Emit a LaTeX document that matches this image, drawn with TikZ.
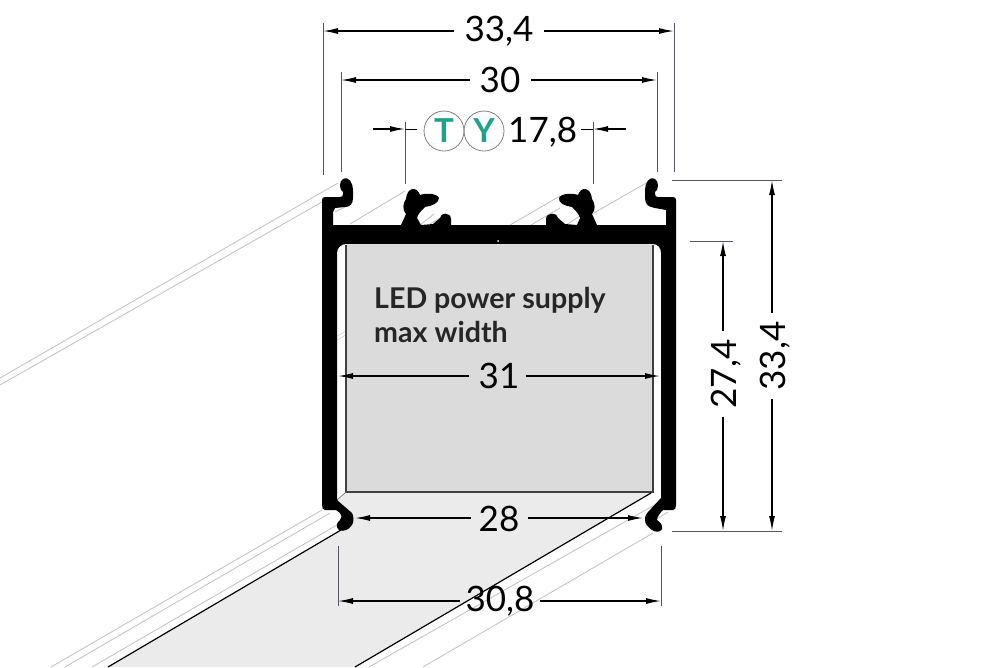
\documentclass[tikz,border=0pt]{standalone}
\usepackage{fontspec}
\setmainfont{Lato}
\definecolor{flr}{HTML}{EBEBEB}
\definecolor{boxg}{HTML}{DBDBDB}
\definecolor{ext}{HTML}{C4C4C4}
\definecolor{dimc}{HTML}{55555F}
\definecolor{tkc}{HTML}{1FA384}
\usetikzlibrary{arrows.meta}
\tikzset{
  extline/.style={draw=ext,line width=0.9pt},
  witness/.style={draw=dimc,line width=1pt},
  dimline/.style={draw=black,line width=1.3pt,-{Latex[length=15pt,width=6pt]}},
  diml/.style={font=\fontsize{35}{35}\selectfont,inner sep=0pt,text=black},
  badge/.style={circle,draw=gray,line width=0.8pt,minimum size=40pt,inner sep=0pt,font=\fontsize{33}{33}\selectfont\bfseries,text=tkc}
}
\begin{document}
\begin{tikzpicture}[x=1pt,y=-1pt]
\useasboundingbox (0,0) rectangle (1000,667);
% floor
\fill[flr] (337,500) -- (346,492) -- (651,493) -- (355,667) -- (108,667) -- (341,530) -- (352,515) -- cycle;
% perspective lines
\draw[extline] (0,378) -- (338,183);
\draw[extline] (0,385) -- (322,202);
\draw[extline] (335,212) -- (345,207);
\draw[extline] (350,224) -- (405,191);
\draw[extline] (420,225) -- (434,214);
\draw[extline] (430,224) -- (440,218);
\draw[extline] (510,225) -- (560,196);
\draw[extline] (531,225) -- (560,208);
\draw[extline] (566,225) -- (580,216);
\draw[extline] (592,214) -- (648,182);
\draw[extline] (51,667) -- (322,510);
\draw[extline] (65,667) -- (330,513);
\draw[extline] (92,667) -- (337,525);
\draw[extline] (369,667) -- (658,503);
\draw[extline] (423,667) -- (653,533);
\draw[extline] (647,525) -- (668,512);
\draw[extline,line width=0.5pt] (337,336) -- (346,331) (337,340) -- (346,335);
% grey box
\fill[boxg] (346,245) rectangle (653,492);
\draw[black!75,line width=1.1pt] (346,245) -- (346,492) -- (653,492) -- (653,245);
\draw[black!60,line width=0.6pt] (337,500) -- (346,492);
% floor edges
\draw[black,line width=1.2pt] (341,530) -- (108,667);
\draw[black,line width=1.2pt] (651,493) -- (355,667);
% profile
\fill[black] (322,200) .. controls (322,198) and (323,197) .. (325,197)
 -- (340,197) .. controls (342,197) and (343,196) .. (343,194)
 -- (343,192) .. controls (339,190) and (339,181) .. (343,179)
 .. controls (349,176) and (353,183) .. (353,190)
 -- (353,198) .. controls (353,204) and (350,207) .. (345,207)
 -- (335,208) -- (333,212) -- (333,225)
 -- (401,225) -- (406,214) .. controls (402,210) and (403,203) .. (406,199)
 .. controls (407,187) and (417,186) .. (420,195)
 .. controls (425,193) and (437,193) .. (439,198)
 .. controls (439,203) and (432,206) .. (425,207)
 .. controls (421,211) and (418,214) .. (417,218)
 -- (421,225) -- (433,224) -- (440,218) .. controls (440,212) and (451,212) .. (451,219)
 -- (451,225) -- (546,225) -- (546,219) .. controls (546,212) and (558,212) .. (558,218)
 -- (565,224) -- (577,225) -- (580,218) .. controls (579,214) and (576,211) .. (572,207)
 .. controls (565,206) and (558,203) .. (559,198)
 .. controls (561,193) and (573,193) .. (578,195)
 .. controls (581,186) and (591,187) .. (592,199)
 .. controls (595,203) and (596,210) .. (592,214)
 -- (597,225) -- (666,225) -- (666,210) -- (655,208)
 .. controls (648,207) and (645,204) .. (645,198)
 -- (645,190) .. controls (645,183) and (649,176) .. (655,179)
 .. controls (659,181) and (659,190) .. (655,192)
 -- (655,194) .. controls (655,196) and (656,197) .. (658,197)
 -- (673,197) .. controls (675,197) and (676,198) .. (676,200)
 -- (676,505) .. controls (676,508) and (675,510) .. (673,510)
 -- (663,510) .. controls (660,513) and (657,517) .. (657,520)
 .. controls (660,522) and (663,525) .. (662,529)
 .. controls (660,533) and (655,532) .. (652,530)
 .. controls (648,527) and (645,524) .. (645,520)
 .. controls (645,516) and (646,514) .. (648,512)
 -- (661,498) -- (661,253) .. controls (661,248) and (658,244) .. (653,244)
 -- (346,244) .. controls (341,244) and (337,248) .. (337,253)
 -- (337,500) -- (352,513) .. controls (354,516) and (354,522) .. (352,525)
 .. controls (349,530) and (343,532) .. (339,530)
 .. controls (335,527) and (337,522) .. (340,520)
 .. controls (342,518) and (342,515) .. (340,513)
 -- (336,510) -- (325,510) .. controls (323,510) and (322,508) .. (322,505) -- cycle;
\fill[white] (498,241) circle (1pt);
% witness lines
\draw[witness] (323,23) -- (323,175);
\draw[witness] (674,23) -- (674,172);
\draw[witness] (341,72) -- (341,172);
\draw[witness] (657,72) -- (657,172);
\draw[witness] (405,122) -- (405,184);
\draw[witness] (593,122) -- (593,184);
\draw[witness] (672,180) -- (782,180);
\draw[witness] (672,531) -- (782,531);
\draw[witness] (690,241) -- (733,241);
\draw[witness] (338,546) -- (338,606);
\draw[witness] (661,546) -- (661,606);
% dim labels
\node[diml] (a) at (499,31) {33,4};
\node[diml] (b) at (500,80) {30};
\node[badge] (t) at (444,131) {T};
\node[badge] (y) at (484,131) {Y};
\node[diml,anchor=west] (c) at (508,132) {17,8};
\node[diml] (d) at (499,376) {31};
\node[diml] (e) at (499,519) {28};
\node[diml] (f) at (500,601) {30,8};
\node[diml,rotate=90] (g) at (726,374) {27,4};
\node[diml,rotate=90] (h) at (775,356) {33,4};
\node[anchor=north west,font=\fontsize{28.6}{34}\selectfont,text=black!85,align=left,inner sep=0pt] (lab) at (374,287) {\textbf{LED power supply}\\\textbf{max width}};
% dimension lines
\coordinate (a1) at (323,31); \coordinate (a2) at (674,31);
\draw[dimline] (a.west)++(-10,0) -- (a1);
\draw[dimline] (a.east)++(10,0) -- (a2);
\coordinate (b1) at (341,80); \coordinate (b2) at (657,80);
\draw[dimline] (b.west)++(-10,0) -- (b1);
\draw[dimline] (b.east)++(10,0) -- (b2);
\coordinate (c1) at (373,129); \coordinate (c2) at (405,129);
\coordinate (c3) at (626,129); \coordinate (c4) at (593,129);
\draw[dimline] (c1) -- (c2);
\draw[witness,draw=black] (c2) -- (417,129);
\draw[dimline] (c3) -- (c4);
\draw[witness,draw=black] (c4) -- (581,129);
\coordinate (d1) at (338,376); \coordinate (d2) at (660,376);
\draw[dimline] (d.west)++(-10,0) -- (d1);
\draw[dimline] (d.east)++(6,0) -- (d2);
\coordinate (e1) at (355,518); \coordinate (e2) at (643,518);
\draw[dimline] (e.west)++(-8,-1) -- (e1);
\draw[dimline] (e.east)++(8,-1) -- (e2);
\coordinate (f1) at (338,601); \coordinate (f2) at (661,601);
\draw[dimline] (f.west)++(-5,0) -- (f1);
\draw[dimline] (f.east)++(5,0) -- (f2);
\coordinate (g1) at (723,241); \coordinate (g2) at (723,531);
\draw[dimline] ([xshift=-3pt]g.east)++(0,-8) -- (g1);
\draw[dimline] ([xshift=-3pt]g.west)++(0,8) -- (g2);
\coordinate (h1) at (772,180); \coordinate (h2) at (772,531);
\draw[dimline] ([xshift=-3pt]h.east)++(0,-8) -- (h1);
\draw[dimline] ([xshift=-3pt]h.west)++(0,8) -- (h2);
\end{tikzpicture}
\end{document}
